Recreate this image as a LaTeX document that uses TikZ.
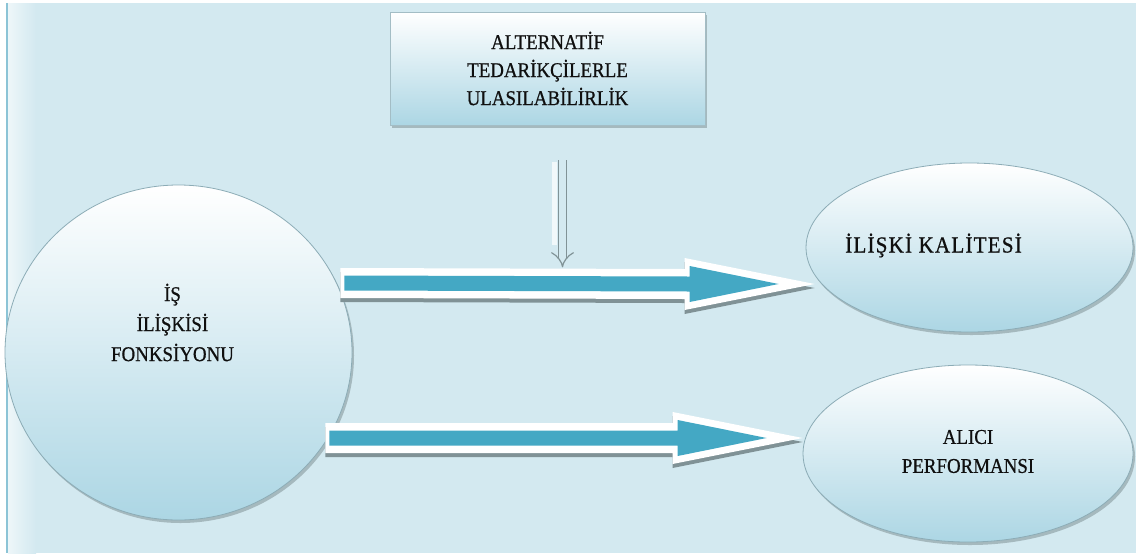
\documentclass[tikz,border=0pt]{standalone}
\usepackage{fontspec}
\setmainfont{Liberation Serif}[FakeStretch=0.9,FakeBold=0.7]
\newfontfamily\widefont{Liberation Serif}[FakeStretch=0.92,FakeBold=0.7,LetterSpace=5]
\usetikzlibrary{calc,shapes.geometric,shadows,arrows.meta}

\definecolor{bgblue}{RGB}{211,233,240}
\definecolor{stripblue}{RGB}{140,196,214}
\definecolor{shapebot}{RGB}{172,214,228}
\definecolor{edgeblue}{RGB}{140,172,182}
\definecolor{arrowteal}{RGB}{68,168,196}
\definecolor{shadowgrey}{RGB}{128,146,150}
\definecolor{txt}{RGB}{15,15,15}

\tikzset{
  softshadow/.style={drop shadow={shadow xshift=2pt,shadow yshift=-3pt,fill=shadowgrey,opacity=.55}},
  oval/.style={ellipse,inner sep=0pt,draw=edgeblue,line width=.8pt,
    top color=white,bottom color=shapebot,softshadow},
  topbox/.style={rectangle,inner sep=0pt,draw=edgeblue!80,line width=.6pt,
    top color=white,bottom color=shapebot,softshadow,
    minimum width=315pt,minimum height=113pt,align=center,text=txt},
  label/.style={align=center,text=txt,inner sep=0pt},
  dblarrow/.style={draw=shadowgrey,line width=1.2pt,double=bgblue,double distance=7pt,
    -{Implies[length=10pt]}}
}

% horizontal block arrow from #1 to the tip #2
\newcommand\blockarrow[2]{%
  \fill[shadowgrey] ($(#1)+(0,-11)$) -- ($(#2)+(-130,-11)$) -- ($(#2)+(-130,-22)$)
    -- ($(#2)+(0,4)$) -- ($(#2)+(-130,30)$) -- ($(#2)+(-130,19)$) -- ($(#1)+(0,19)$) -- cycle;
  \fill[white] ($(#1)+(0,-15)$) -- ($(#2)+(-130,-15)$) -- ($(#2)+(-130,-26)$)
    -- (#2) -- ($(#2)+(-130,26)$) -- ($(#2)+(-130,15)$) -- ($(#1)+(0,15)$) -- cycle;
  \fill[arrowteal] ($(#1)+(4,-7.5)$) -- ($(#2)+(-125,-7.5)$) -- ($(#2)+(-125,-18)$)
    -- ($(#2)+(-36,0)$) -- ($(#2)+(-125,18)$) -- ($(#2)+(-125,7.5)$) -- ($(#1)+(4,7.5)$) -- cycle;
}

\begin{document}
\begin{tikzpicture}[x=1pt,y=-1pt,font=\fontsize{21}{28}\selectfont]
  % page and panel background
  \useasboundingbox (0,0) rectangle (1147,555);
  \fill[white] (0,0) rectangle (1147,555);
  \fill[bgblue] (6,3) rectangle (1136,553);
  \shade[left color=white!60!bgblue,right color=bgblue] (8,3) rectangle (36,553);
  \fill[stripblue] (6,3) rectangle (8,553);

  % nodes
  \node[topbox] (alt) at (547.5,68.5)
    {ALTERNATİF\\TEDARİKÇİLERLE\\ULASILABİLİRLİK};
  \node[oval,minimum width=347pt,minimum height=335pt] (circ) at (178.5,352.5) {};
  \node[oval,minimum width=327pt,minimum height=169pt] (ell1) at (969.5,247.5) {};
  \node[oval,minimum width=330pt,minimum height=177pt] (ell2) at (968,453.5) {};

  \node[label,font=\fontsize{21}{30}\selectfont] (circtext) at ($(circ.center)+(-6,-30)$)
    {İŞ\\İLİŞKİSİ\\FONKSİYONU};
  \node[label,font=\widefont\fontsize{23}{28}\selectfont] (ell1text) at ($(ell1.center)+(-36,-2)$)
    {İLİŞKİ KALİTESİ};
  \node[label,font=\fontsize{21}{29}\selectfont] (ell2text) at ($(ell2.center)+(0,-2)$)
    {ALICI\\PERFORMANSI};

  % connectors
  \coordinate (a1s) at ($(circ.east)+(-12,-69.5)$);
  \coordinate (a1t) at ($(ell1.west)+(9,36.5)$);
  \coordinate (a2s) at ($(circ.east)+(-27,85.5)$);
  \coordinate (a2t) at ($(ell2.west)+(0,-15.5)$);
  \blockarrow{a1s}{a1t}
  \blockarrow{a2s}{a2t}

  \coordinate (ds) at ($(alt.south)+(15,35)$);
  \coordinate (de) at ($(alt.south)+(15,142)$);
  \draw[white,opacity=.7,line width=5pt] ($(ds)+(-8,2)$) -- ($(de)+(-8,-22)$);
  \draw[dblarrow] (ds) -- (de);
\end{tikzpicture}
\end{document}
